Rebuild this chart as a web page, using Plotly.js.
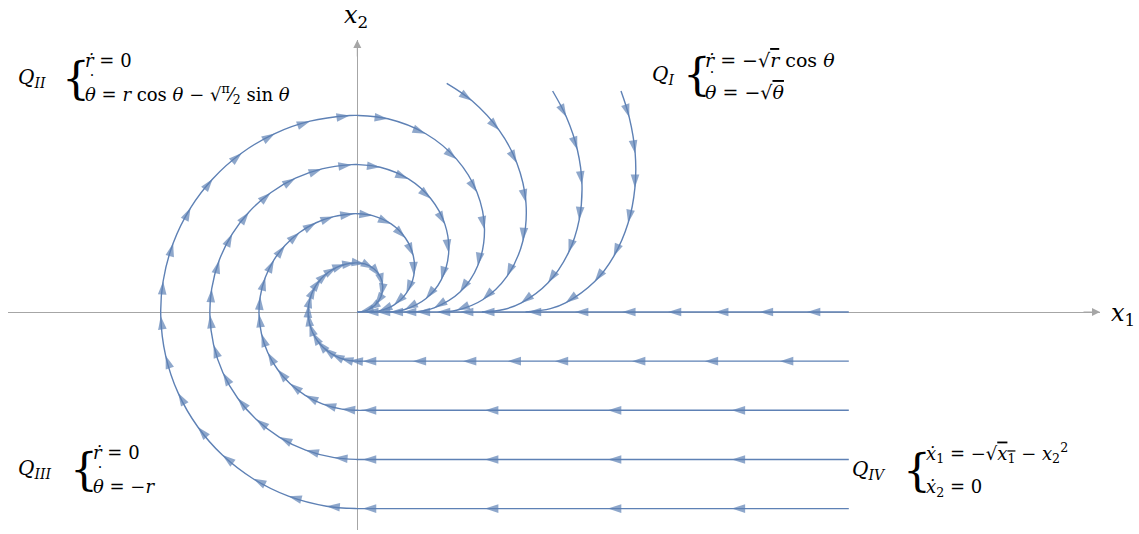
<!DOCTYPE html>
<html>
<head>
<meta charset="utf-8">
<script src="https://cdn.plot.ly/plotly-3.0.1.min.js"></script>
<style>
  html, body { margin: 0; padding: 0; background: #fff; }
  #plot { width: 1139px; height: 534px; }
</style>
</head>
<body>
<div id="plot"></div>
<script>
// ---- data (units: x1, x2) ----

// QIV legs start at x1 = 10 and run left to the x2 axis
var legStart = 10;
var legLevels = [-1, -2, -3, -4];
var legArrowsR1 = [8.60, 7.07, 5.59, 4.02, 3.06, 2.15, 1.13, 0.115];
var legArrowsR2 = [7.62, 5.10, 2.60, 0.115];
var axisArrows = [9.15, 8.19, 7.28, 6.32, 5.39, 4.43, 3.47, 2.52, 2.09, 1.62, 1.21, 0.93, 0.66, 0.40, 0.16];

// QIII + QII arcs (r = const), arrow positions from 270deg round to 90deg
var arc1X = [-0.156, -0.350, -0.530, -0.686, -0.811, -0.911, -0.975, -1.000, -0.988, -0.937, -0.848, -0.736, -0.588, -0.420, -0.240, -0.038];
var arc1Y = [-0.988, -0.937, -0.848, -0.728, -0.585, -0.412, -0.222, -0.021, 0.156, 0.350, 0.530, 0.677, 0.809, 0.908, 0.971, 0.999];
var arc2X = [-0.313, -0.700, -1.060, -1.372, -1.622, -1.823, -1.950, -2.000, -1.975, -1.873, -1.696, -1.472, -1.176, -0.839, -0.480, -0.077];
var arc2Y = [-1.975, -1.873, -1.696, -1.456, -1.170, -0.823, -0.443, -0.042, 0.313, 0.700, 1.060, 1.354, 1.618, 1.816, 1.941, 1.999];
var arc3X = [-0.469, -1.051, -1.590, -2.059, -2.433, -2.734, -2.925, -2.999, -2.963, -2.810, -2.544, -2.208, -1.763, -1.259, -0.721, -0.115];
var arc3Y = [-2.963, -2.810, -2.544, -2.183, -1.755, -1.235, -0.665, -0.063, 0.469, 1.051, 1.590, 2.031, 2.427, 2.723, 2.912, 2.998];
var arc4X = [-0.626, -1.401, -2.120, -2.745, -3.244, -3.646, -3.900, -3.999, -3.951, -3.747, -3.392, -2.944, -2.351, -1.678, -0.961, -0.154];
var arc4Y = [-3.951, -3.747, -3.392, -2.911, -2.340, -1.646, -0.886, -0.084, 0.626, 1.401, 2.120, 2.708, 3.236, 3.631, 3.883, 3.997];

// QI spirals continuing the arcs down onto the x1 axis
var qi1X = [0.155, 0.338, 0.467, 0.518, 0.480, 0.359, 0.207, 0.063];
var qi1Y = [0.978, 0.880, 0.719, 0.518, 0.312, 0.138, 0.040, 0.003];
var qi2X = [0.311, 0.688, 0.978, 1.140, 1.150, 0.998, 0.749, 0.442];
var qi2Y = [1.961, 1.792, 1.506, 1.140, 0.747, 0.383, 0.146, 0.023];
var qi3X = [0.467, 1.040, 1.497, 1.783, 1.859, 1.707, 1.393, 0.966];
var qi3Y = [2.946, 2.708, 2.305, 1.783, 1.207, 0.655, 0.271, 0.051];
var qi4X = [0.622, 1.393, 2.019, 2.435, 2.588, 2.450, 2.090, 1.563];
var qi4Y = [3.931, 3.627, 3.110, 2.435, 1.681, 0.940, 0.406, 0.082];
var tail1X = [0.024, 0.0005], tail1Y = [0.0004, 0];
var tail2X = [0.324, 0.191], tail2Y = [0.006, 0];
var tail3X = [0.786, 0.569], tail3Y = [0.014, 0];
var tail4X = [1.333, 1.046], tail4Y = [0.023, 0];

// QI trajectories starting inside the quadrant
var q5Start = [1.819, 4.653];
var q5X = [2.334, 2.888, 3.248, 3.431, 3.369, 3.041, 2.551, 2.018];
var q5Y = [4.298, 3.696, 3.029, 2.228, 1.444, 0.719, 0.250, 0.035];
var tail5X = [1.661], tail5Y = [0];
var q6Start = [3.974, 4.496];
var q6X = [4.254, 4.477, 4.571, 4.513, 4.297, 3.882, 3.328];
var q6Y = [3.967, 3.301, 2.596, 1.869, 1.208, 0.594, 0.180];
var tail6X = [2.976, 2.538], tail6Y = [0.052, 0];
var q7Start = [5.365, 4.496];
var q7X = [5.533, 5.654, 5.648, 5.510, 5.214, 4.830, 4.237];
var q7Y = [3.961, 3.225, 2.526, 1.811, 1.127, 0.619, 0.185];
var tail7X = [3.930, 3.424], tail7Y = [0.069, 0];

// ---- styling ----
var blue = '#5E81B5';
var grey = '#A6A6A6';
var ARROW = 14;
var serif = 'DejaVu Serif';

function fill(n, v) {
    var a = [];
    for (var i = 0; i < n; i++) a.push(v);
    return a;
}

function stream(x, y, size) {
    return {
        x: x, y: y,
        type: 'scatter',
        mode: 'lines+markers',
        line: {color: blue, width: 1.4, shape: 'spline', smoothing: 1},
        marker: {symbol: 'arrow', size: size, color: blue, angleref: 'previous', line: {width: 0}},
        hoverinfo: 'skip',
        showlegend: false
    };
}

// loop trajectory: QIV leg -> QIII/QII arc -> QI spiral
function loop(level, legArrows, arcX, arcY, qiX, qiY, tailX, tailY) {
    var x = [legStart].concat(legArrows, [0], arcX, [0], qiX, tailX);
    var y = fill(legArrows.length + 1, level).concat([level], arcY, [-level], qiY, tailY);
    var size = [0].concat(fill(legArrows.length, ARROW), [0], fill(arcX.length, ARROW), [0],
                          fill(qiX.length, ARROW), fill(tailX.length, 0));
    return stream(x, y, size);
}

function inner(start, qX, qY, tailX, tailY) {
    var x = [start[0]].concat(qX, tailX);
    var y = [start[1]].concat(qY, tailY);
    var size = [0].concat(fill(qX.length, ARROW), fill(tailX.length, 0));
    return stream(x, y, size);
}

var data = [
    stream([legStart].concat(axisArrows, [0]), fill(axisArrows.length + 2, 0),
           [0].concat(fill(axisArrows.length, ARROW), [0])),
    loop(legLevels[0], legArrowsR1, arc1X, arc1Y, qi1X, qi1Y, tail1X, tail1Y),
    loop(legLevels[1], legArrowsR2, arc2X, arc2Y, qi2X, qi2Y, tail2X, tail2Y),
    loop(legLevels[2], legArrowsR2, arc3X, arc3Y, qi3X, qi3Y, tail3X, tail3Y),
    loop(legLevels[3], legArrowsR2, arc4X, arc4Y, qi4X, qi4Y, tail4X, tail4Y),
    inner(q5Start, q5X, q5Y, tail5X, tail5Y),
    inner(q6Start, q6X, q6Y, tail6X, tail6Y),
    inner(q7Start, q7X, q7Y, tail7X, tail7Y)
];

// pixel -> paper helpers for the text blocks
function px(x) { return (x - 8) / 1092; }
function py(y) { return (530 - y) / 490; }

function label(x, y, text, size, anchor) {
    return {xref: 'paper', yref: 'paper', x: px(x), y: py(y), text: text,
            showarrow: false, xanchor: anchor || 'left', yanchor: 'middle',
            font: {family: serif, size: size || 18, color: '#000'}};
}

// the dot over theta does not combine in this font, so it is set on its own
function thetaDot(x, y) {
    return label(x + 9, y - 13, '\u02d9', 16, 'center');
}

var over = function (s) { return '<span style="text-decoration:overline">' + s + '</span>'; };
var rdot = '<i>\u1e59</i>';
var th = '<i>\u03b8</i>';

var annotations = [
    // axis arrowheads
    {xref: 'paper', yref: 'y', x: 1, y: 0, ax: -18, ay: 0, text: '', showarrow: true,
     arrowhead: 2, arrowsize: 1.6, arrowwidth: 1, arrowcolor: grey},
    {xref: 'x', yref: 'paper', x: 0, y: 1, ax: 0, ay: 18, text: '', showarrow: true,
     arrowhead: 2, arrowsize: 1.6, arrowwidth: 1, arrowcolor: grey},
    label(1109, 314, '<i>x</i><sub>1</sub>', 24),
    label(342, 16, '<i>x</i><sub>2</sub>', 24),

    // Q_II
    label(16, 78, '<i>Q<sub>II</sub></i>', 20),
    label(60, 78, '{', 44),
    label(83, 60, rdot + ' = 0'),
    label(83, 94, th + ' = <i>r</i> cos ' + th + ' \u2212 \u221a<sup>\u03c0</sup>\u2044<sub>2</sub> sin ' + th),
    thetaDot(83, 94),

    // Q_I
    label(650, 75, '<i>Q<sub>I</sub></i>', 20),
    label(681, 75, '{', 44),
    label(703, 60, rdot + ' = \u2212\u221a' + over('<i>r</i>') + ' cos ' + th, 19),
    label(703, 92, th + ' = \u2212\u221a' + over(th), 19),
    thetaDot(703, 92),

    // Q_III
    label(16, 469, '<i>Q<sub>III</sub></i>', 20),
    label(68, 469, '{', 44),
    label(91, 452, rdot + ' = 0'),
    label(91, 486, th + ' = \u2212<i>r</i>'),
    thetaDot(91, 486),

    // Q_IV
    label(850, 470, '<i>Q<sub>IV</sub></i>', 20),
    label(901, 470, '{', 44),
    label(924, 453, '<i>\u1e8b</i><sub>1</sub> = \u2212\u221a' + over('<i>x</i><sub>1</sub>') + ' \u2212 <i>x</i><sub>2</sub><sup>2</sup>'),
    label(924, 488, '<i>\u1e8b</i><sub>2</sub> = 0')
];

var layout = {
    width: 1139,
    height: 534,
    margin: {l: 8, r: 39, t: 40, b: 4},
    paper_bgcolor: '#fff',
    plot_bgcolor: '#fff',
    font: {family: serif},
    showlegend: false,
    xaxis: {
        range: [-7.107, 15.111],
        showgrid: false, showticklabels: false, ticks: '', showline: false,
        zeroline: true, zerolinecolor: grey, zerolinewidth: 1, fixedrange: true
    },
    yaxis: {
        range: [-4.435, 5.534],
        showgrid: false, showticklabels: false, ticks: '', showline: false,
        zeroline: true, zerolinecolor: grey, zerolinewidth: 1, fixedrange: true
    },
    annotations: annotations
};

Plotly.newPlot('plot', data, layout, {displayModeBar: false, staticPlot: true});
</script>
</body>
</html>
